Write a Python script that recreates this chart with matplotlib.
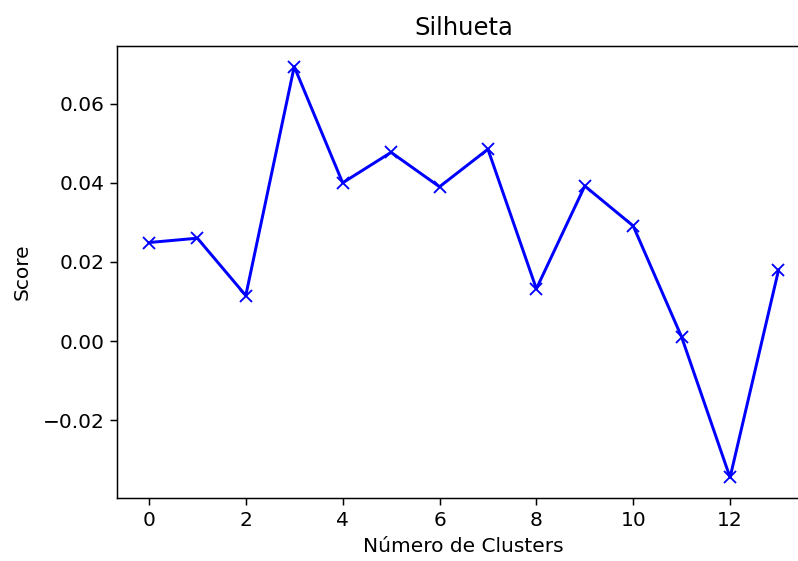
import matplotlib
matplotlib.use("Agg")
import matplotlib.pyplot as plt

# silhouette score per number of clusters
clusters = list(range(14))
scores = [0.0249, 0.0260, 0.0115, 0.0694, 0.0400, 0.0477, 0.0390,
          0.0485, 0.0132, 0.0392, 0.0291, 0.0010, -0.0345, 0.0179]

plt.rcParams["font.size"] = 10.8
plt.rcParams["axes.titlesize"] = 13

dpi = 134
fig = plt.figure(figsize=(798 / dpi, 561 / dpi), dpi=dpi)
ax = fig.add_axes([0.1472, 0.1123, 0.8678, 0.8057])

ax.plot(clusters, scores, "bx-", linewidth=1.6, markersize=6.5)
ax.set_title("Silhueta")
ax.set_xlabel("Número de Clusters")
ax.set_ylabel("Score", labelpad=6)

# the reference image is cropped on the right, no right spine visible
ax.spines["right"].set_visible(False)

fig.savefig("out.png", dpi=dpi)
